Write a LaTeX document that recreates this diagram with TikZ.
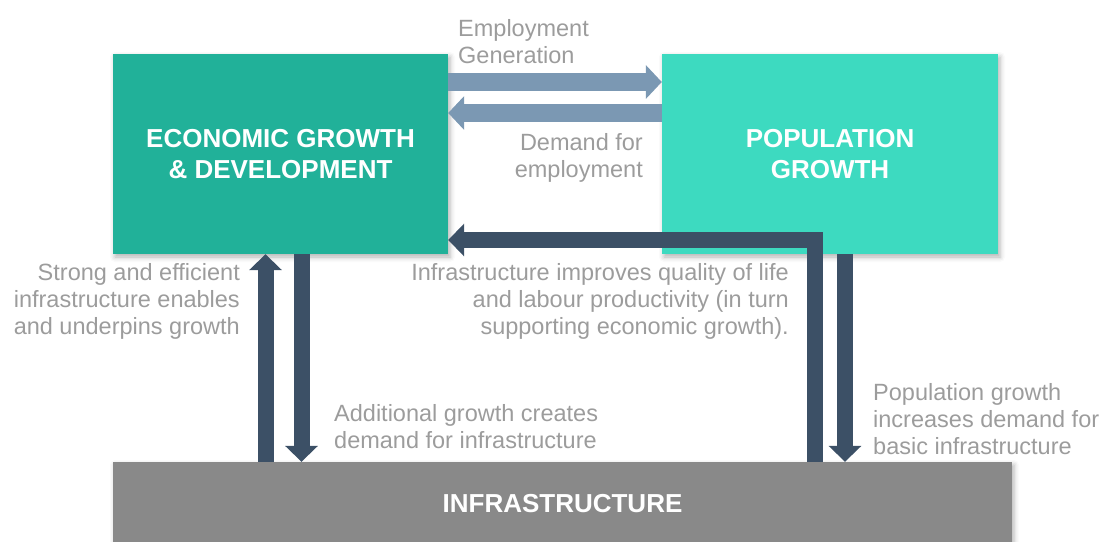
\documentclass[tikz,border=0pt]{standalone}
\usepackage{fontspec}
\setmainfont{Liberation Sans}
\usepackage{xcolor}
\usepackage{tikz}
\usetikzlibrary{arrows.meta,shadows.blur}
\definecolor{econgreen}{HTML}{21B199}
\definecolor{popgreen}{HTML}{3DDAC0}
\definecolor{infragray}{HTML}{898989}
\definecolor{softflow}{HTML}{7B98B3}
\definecolor{darkflow}{HTML}{3C5066}
\definecolor{notegray}{HTML}{9C9C9C}

\begin{document}
\begin{tikzpicture}[x=1pt,y=-1pt,
    box/.style={text=white,align=center,inner sep=0pt,
        font=\fontsize{26}{31}\selectfont\bfseries,
        blur shadow={shadow xshift=2pt,shadow yshift=-3pt,shadow blur radius=5pt,shadow opacity=30}},
    note/.style={text=notegray,inner sep=0pt,font=\fontsize{23.5}{27}\selectfont},
    softarrow/.style={draw=softflow,line width=18pt,-{Triangle[length=16pt,width=33pt]}},
    darkarrow/.style={draw=darkflow,line width=16pt,line join=miter,-{Triangle[length=16pt,width=32pt]}}]
\useasboundingbox (0,0) rectangle (1107,541);
% boxes
\node[box,fill=econgreen,minimum width=335pt,minimum height=200pt] (econ) at (280.5,154) {ECONOMIC GROWTH\\\& DEVELOPMENT};
\node[box,fill=popgreen,minimum width=336pt,minimum height=200pt] (pop) at (830,154) {POPULATION\\GROWTH};
\node[box,fill=infragray,minimum width=899pt,minimum height=84pt] (infra) at (562.5,504) {INFRASTRUCTURE};
% arrows between the boxes
\draw[softarrow] ([yshift=72pt]econ.east) -- ([yshift=72pt]pop.west);
\draw[softarrow] ([yshift=41pt]pop.west) -- ([yshift=41pt]econ.east);
\draw[darkarrow] ([xshift=-15pt]econ.south |- infra.north) -- ([xshift=-15pt]econ.south);
\draw[darkarrow] ([xshift=21pt]econ.south) -- ([xshift=21pt]econ.south |- infra.north);
\draw[darkarrow] ([xshift=-15pt]pop.south |- infra.north) |- ([yshift=-86pt]econ.east);
\draw[darkarrow] ([xshift=15pt]pop.south) -- ([xshift=15pt]pop.south |- infra.north);
% notes
\node[note,anchor=west,align=left] (empgen) at (458,41.5) {Employment\\Generation};
\node[note,anchor=east,align=right] (empdem) at (643,157.5) {Demand for\\employment};
\node[note,anchor=east,align=right] (enables) at (240,301) {Strong and efficient\\infrastructure enables\\and underpins growth};
\node[note,anchor=east,align=right] (quality) at (789,301) {Infrastructure improves quality of life\\and labour productivity (in turn\\supporting economic growth).};
\node[note,anchor=west,align=left] (creates) at (334,426.5) {Additional growth creates\\demand for infrastructure};
\node[note,anchor=west,align=left] (basic) at (873,419) {Population growth\\increases demand for\\basic infrastructure};
\end{tikzpicture}
\end{document}
